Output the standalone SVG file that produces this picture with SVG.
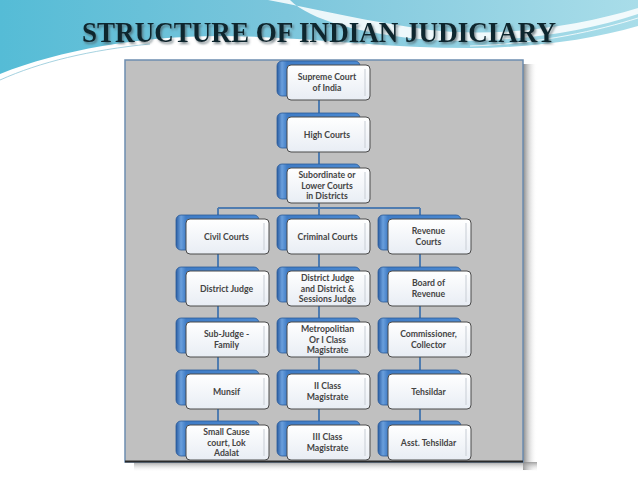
<svg xmlns="http://www.w3.org/2000/svg" width="638" height="479" viewBox="0 0 638 479">
<defs>
<linearGradient id="sky" x1="0" y1="0" x2="1" y2="0">
<stop offset="0" stop-color="#55bcd6"/>
<stop offset="0.45" stop-color="#7cc6dc"/>
<stop offset="1" stop-color="#a9dde9"/>
</linearGradient>
<linearGradient id="blue" x1="0" y1="0" x2="1" y2="0">
<stop offset="0" stop-color="#2a5da3"/>
<stop offset="0.06" stop-color="#6a9fdc"/>
<stop offset="0.12" stop-color="#3f7cc6"/>
<stop offset="1" stop-color="#4c8ad2"/>
</linearGradient>
<linearGradient id="card" x1="0" y1="0" x2="0" y2="1">
<stop offset="0" stop-color="#ffffff"/>
<stop offset="1" stop-color="#e8edf4"/>
</linearGradient>
<linearGradient id="shR" x1="0" y1="0" x2="1" y2="0">
<stop offset="0" stop-color="#6a6a6a"/>
<stop offset="1" stop-color="#ffffff" stop-opacity="0"/>
</linearGradient>
<linearGradient id="shB" x1="0" y1="0" x2="0" y2="1">
<stop offset="0" stop-color="#8a8a8a"/>
<stop offset="1" stop-color="#ffffff" stop-opacity="0"/>
</linearGradient>
<filter id="tsh" x="-5%" y="-30%" width="110%" height="160%">
<feDropShadow dx="1.5" dy="2" stdDeviation="1" flood-color="#4a5a60" flood-opacity="0.7"/>
</filter>
<g id="box">
<rect x="-10" y="-4" width="83" height="35" rx="5" fill="url(#blue)" stroke="#2b5a98" stroke-width="0.8"/>
<rect x="0" y="0" width="83" height="35" rx="4" fill="url(#card)" stroke="#4a4a4a" stroke-width="1"/>
<line x1="78" y1="4" x2="78" y2="31" stroke="#cfd4db" stroke-width="1.2"/>
</g>
</defs>
<style>
.t{font-family:Lato,"Open Sans","DejaVu Sans",sans-serif;font-weight:bold;font-size:8.7px;fill:#444444;text-anchor:middle}
.ttl{font-family:"Liberation Serif","Times New Roman",serif;font-weight:bold;font-size:29px;fill:#10262e}
.c{stroke:#4f7cb0;stroke-width:2;fill:none}
</style>
<rect width="638" height="479" fill="#ffffff"/>
<g id="background">
<path d="M0,0 H638 V26 C590,40 530,48 470,48 C380,48 300,36 220,36 C140,36 60,50 0,74 Z" fill="url(#sky)"/>
<path d="M268,0 C320,10 370,22 430,30 C500,38 580,26 638,8 V14 C580,34 500,44 430,40 C360,34 310,20 290,0 Z" fill="#ffffff" opacity="0.85"/>
<path d="M0,80 C40,62 90,50 150,44" stroke="#8fc7d8" stroke-width="0.8" fill="none"/>
<path d="M470,46 C540,44 600,30 638,18" stroke="#ffffff" stroke-width="0.8" fill="none"/>
</g>
<text id="title" class="ttl" x="82" y="42" textLength="474" lengthAdjust="spacingAndGlyphs" filter="url(#tsh)">STRUCTURE OF INDIAN JUDICIARY</text>
<g id="panel">
<rect x="523" y="64" width="14" height="406" fill="url(#shR)" opacity="0.8"/>
<rect x="134" y="462" width="403" height="10" fill="url(#shB)" opacity="0.8"/>
<rect x="125" y="60" width="398" height="402" fill="#c0c0c0" stroke="#6d8db0" stroke-width="1.5"/>
<line x1="125" y1="461.5" x2="523" y2="461.5" stroke="#2a2a2a" stroke-width="2"/>
</g>
<g id="connectors">
<line class="c" x1="319" y1="83" x2="319" y2="440"/>
<line class="c" x1="218" y1="208" x2="420" y2="208"/>
<line class="c" x1="218" y1="208" x2="218" y2="440"/>
<line class="c" x1="420" y1="208" x2="420" y2="440"/>
</g>
<g id="supreme-court"><use href="#box" x="287" y="65"/><text class="t" x="327" y="80.35">Supreme Court</text><text class="t" x="327" y="90.85">of India</text></g>
<g id="high-courts"><use href="#box" x="287" y="117"/><text class="t" x="327" y="137.6">High Courts</text></g>
<g id="subordinate-courts"><use href="#box" x="287" y="168"/><text class="t" x="327" y="178.1">Subordinate or</text><text class="t" x="327" y="188.6">Lower Courts</text><text class="t" x="327" y="199.1">in Districts</text></g>

<g id="civil-courts"><use href="#box" x="186" y="219"/><text class="t" x="226.5" y="239.6">Civil Courts</text></g>
<g id="criminal-courts"><use href="#box" x="287" y="219"/><text class="t" x="327.5" y="239.6">Criminal Courts</text></g>
<g id="revenue-courts"><use href="#box" x="388" y="219"/><text class="t" x="428.5" y="234.35">Revenue</text><text class="t" x="428.5" y="244.85">Courts</text></g>

<g id="district-judge"><use href="#box" x="186" y="271"/><text class="t" x="226.5" y="291.6">District Judge</text></g>
<g id="sessions-judge"><use href="#box" x="287" y="271"/><text class="t" x="327.5" y="281.1">District Judge</text><text class="t" x="327.5" y="291.6">and District &amp;</text><text class="t" x="327.5" y="302.1">Sessions Judge</text></g>
<g id="board-of-revenue"><use href="#box" x="388" y="271"/><text class="t" x="428.5" y="286.35">Board of</text><text class="t" x="428.5" y="296.85">Revenue</text></g>

<g id="sub-judge"><use href="#box" x="186" y="322"/><text class="t" x="226.5" y="337.35">Sub-Judge -</text><text class="t" x="226.5" y="347.85">Family</text></g>
<g id="metropolitan-magistrate"><use href="#box" x="287" y="322"/><text class="t" x="327.5" y="332.1">Metropolitian</text><text class="t" x="327.5" y="342.6">Or I Class</text><text class="t" x="327.5" y="353.1">Magistrate</text></g>
<g id="commissioner"><use href="#box" x="388" y="322"/><text class="t" x="428.5" y="337.35">Commissioner,</text><text class="t" x="428.5" y="347.85">Collector</text></g>

<g id="munsif"><use href="#box" x="186" y="374"/><text class="t" x="226.5" y="394.6">Munsif</text></g>
<g id="ii-class"><use href="#box" x="287" y="374"/><text class="t" x="327.5" y="389.35">II Class</text><text class="t" x="327.5" y="399.85">Magistrate</text></g>
<g id="tehsildar"><use href="#box" x="388" y="374"/><text class="t" x="428.5" y="394.6">Tehsildar</text></g>

<g id="small-cause"><use href="#box" x="186" y="425"/><text class="t" x="226.5" y="435.1">Small Cause</text><text class="t" x="226.5" y="445.6">court, Lok</text><text class="t" x="226.5" y="456.1">Adalat</text></g>
<g id="iii-class"><use href="#box" x="287" y="425"/><text class="t" x="327.5" y="440.35">III Class</text><text class="t" x="327.5" y="450.85">Magistrate</text></g>
<g id="asst-tehsildar"><use href="#box" x="388" y="425"/><text class="t" x="428.5" y="445.6">Asst. Tehsildar</text></g>
</svg>
